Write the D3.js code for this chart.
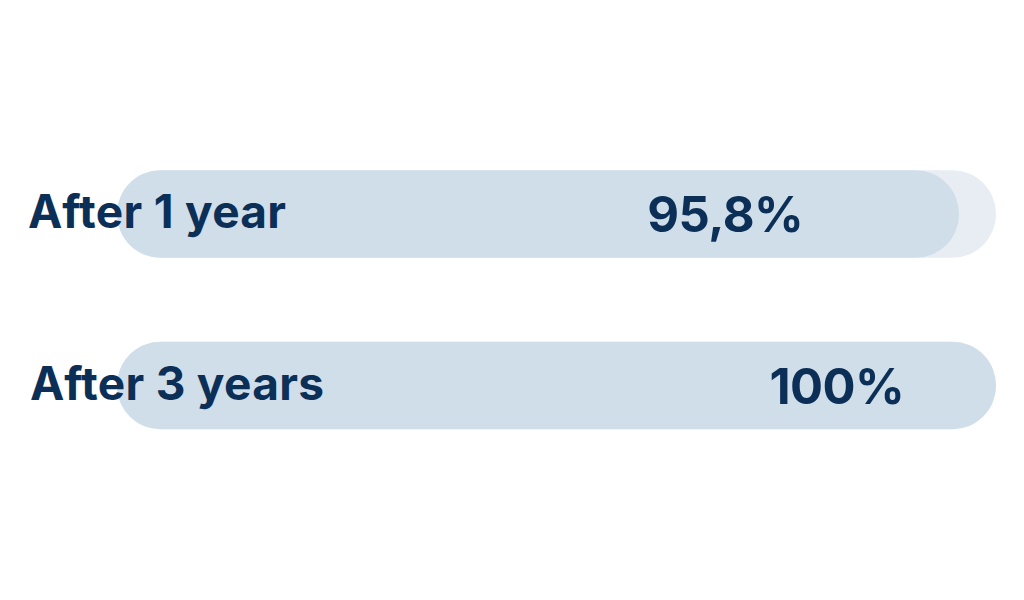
<!DOCTYPE html>
<html>
<head>
<meta charset="utf-8">
<script src="https://cdn.jsdelivr.net/npm/d3@7"></script>
<style>
  html, body { margin: 0; padding: 0; background: #ffffff; }
  svg { display: block; }
  text { font-family: "Inter", "DejaVu Sans", sans-serif; font-weight: 700; fill: #0b2f56; }
</style>
</head>
<body>
<svg id="chart" width="1024" height="600"></svg>
<script>
// ---- data ----
const categories = ["After 1 year", "After 3 years"];
const values = [95.8, 100];
const valueLabels = ["95,8%", "100%"];
const domainMax = 100;

// ---- layout ----
const trackLeft = 117, trackRight = 996;
const barCenters = [214, 385.5];
const barHeight = 87.5;
const labelCenterFrac = [0.692, 0.819]; // value label centres as fraction of the track

const svg = d3.select("#chart");
const x = d3.scaleLinear().domain([0, domainMax]).range([trackLeft, trackRight]);
const y = d3.scaleOrdinal().domain(categories).range(barCenters);

const rows = categories.map((c, i) => ({ cat: c, v: values[i], lab: valueLabels[i], frac: labelCenterFrac[i] }));

const g = svg.selectAll("g.row").data(rows).enter().append("g").attr("class", "row");

// background track
g.append("rect")
  .attr("x", x(0))
  .attr("y", d => y(d.cat) - barHeight / 2)
  .attr("width", x(domainMax) - x(0))
  .attr("height", barHeight)
  .attr("rx", barHeight / 2)
  .attr("fill", "#e8edf3");

// value bar
g.append("rect")
  .attr("x", x(0))
  .attr("y", d => y(d.cat) - barHeight / 2)
  .attr("width", d => x(d.v) - x(0))
  .attr("height", barHeight)
  .attr("rx", barHeight / 2)
  .attr("fill", "#d0deea");

// category labels
g.append("text")
  .attr("x", (d, i) => i === 0 ? 28 : 30)
  .attr("y", d => y(d.cat) + 14)
  .attr("font-size", 46)
  .attr("letter-spacing", 0.3)
  .text(d => d.cat);

// value labels
g.append("text")
  .attr("x", d => x(0) + d.frac * (x(domainMax) - x(0)))
  .attr("y", d => y(d.cat) + 18)
  .attr("text-anchor", "middle")
  .attr("font-size", 49)
  .attr("letter-spacing", -0.5)
  .text(d => d.lab);
</script>
</body>
</html>
